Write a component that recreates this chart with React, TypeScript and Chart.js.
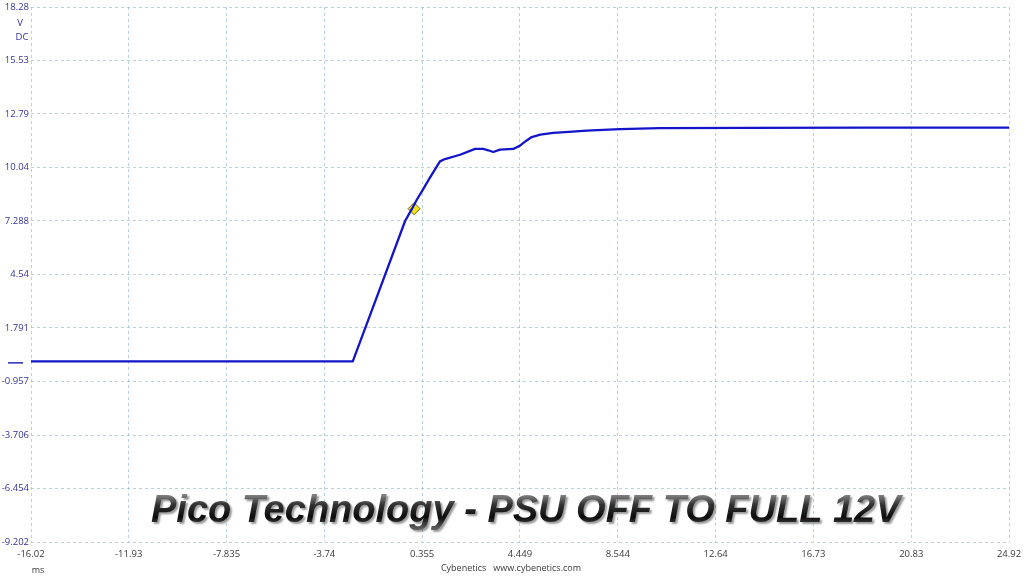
import React, { useEffect, useRef } from "react";
import { Chart, registerables } from "chart.js";

Chart.register(...registerables);

// ---- data ----
const timeMs = [
  -16.02, -8.0, -2.55, -1.6, -0.36, -0.07, 0.13, 0.38, 0.63, 0.86, 1.1, 1.31,
  1.94, 2.57, 2.91, 3.12, 3.33, 3.61, 4.17, 4.45, 4.7, 4.94, 5.3, 5.84, 6.5,
  7.24, 8.63, 10.3, 14.0, 19.0, 24.92,
];
const voltage = [
  0.075, 0.075, 0.075, 3.2, 7.288, 7.92, 8.38, 8.89, 9.41, 9.87, 10.35, 10.47,
  10.69, 10.99, 10.99, 10.92, 10.83, 10.95, 10.99, 11.16, 11.4, 11.6, 11.72,
  11.81, 11.87, 11.93, 12.01, 12.06, 12.07, 12.08, 12.08,
];
const triggerTime = [0.015];
const triggerVoltage = [7.92];

const xTickLabels = [
  "-16.02", "-11.93", "-7.835", "-3.74", "0.355", "4.449", "8.544", "12.64",
  "16.73", "20.83", "24.92",
];
const yTickLabels = [
  "-9.202", "-6.454", "-3.706", "-0.957", "1.791", "4.54", "7.288", "10.04",
  "12.79", "15.53", "18.28",
];

const titleText = "Pico Technology - PSU OFF TO FULL 12V";
const unitX = "ms";
const unitY = ["V", "DC"];
const footerText = "Cybenetics   www.cybenetics.com";

const TICK_FONT = { family: "'Open Sans', 'Noto Sans', sans-serif", size: 9.5 };
const GRID_COLOR = "rgba(150,185,205,0.65)";
const Y_LABEL_COLOR = "#34349a";
const X_LABEL_COLOR = "#3a3a3a";

const overlayPlugin = {
  id: "overlay",
  afterDraw(chart: any) {
    const ctx = chart.ctx as CanvasRenderingContext2D;
    const yScale = chart.scales.y;
    ctx.save();
    // unit labels on y axis
    ctx.fillStyle = Y_LABEL_COLOR;
    ctx.font = "9.5px 'Open Sans', 'Noto Sans', sans-serif";
    ctx.textAlign = "center";
    ctx.textBaseline = "middle";
    ctx.fillText(unitY[0], 20, 23);
    ctx.fillText(unitY[1], 22, 37);
    // zero marker
    const y0 = yScale.getPixelForValue(0);
    ctx.strokeStyle = "#2a2ab8";
    ctx.lineWidth = 1.5;
    ctx.beginPath();
    ctx.moveTo(8, y0);
    ctx.lineTo(23, y0);
    ctx.stroke();
    // x unit
    ctx.fillStyle = X_LABEL_COLOR;
    ctx.font = "9px 'Open Sans', 'Noto Sans', sans-serif";
    ctx.fillText(unitX, 38, 570);
    // footer
    ctx.fillText(footerText, 511, 568);
    // title
    ctx.font = "italic bold 38px 'Liberation Sans', Arial, sans-serif";
    ctx.textAlign = "left";
    ctx.textBaseline = "alphabetic";
    const tx = 151;
    const ty = 522;
    const grad = ctx.createLinearGradient(0, ty - 30, 0, ty + 6);
    grad.addColorStop(0, "#9a9a9a");
    grad.addColorStop(0.35, "#333333");
    grad.addColorStop(0.7, "#0c0c0c");
    grad.addColorStop(1, "#5a5a5a");
    ctx.shadowColor = "rgba(0,0,0,0.4)";
    ctx.shadowOffsetX = 2;
    ctx.shadowOffsetY = 2;
    ctx.shadowBlur = 2;
    ctx.fillStyle = grad;
    ctx.fillText(titleText, tx, ty);
    ctx.restore();
  },
};

export default function App() {
  const canvasRef = useRef<HTMLCanvasElement | null>(null);

  useEffect(() => {
    const canvas = canvasRef.current;
    if (!canvas) return;
    const xVals = xTickLabels.map((s) => parseFloat(s));
    const yVals = yTickLabels.map((s) => parseFloat(s));
    const chart = new Chart(canvas, {
      type: "line",
      data: {
        datasets: [
          {
            data: timeMs.map((t, i) => ({ x: t, y: voltage[i] })),
            borderColor: "#1414c8",
            borderWidth: 2.3,
            pointRadius: 0,
            tension: 0,
            borderJoinStyle: "round",
            fill: false,
          },
          {
            data: triggerTime.map((t, i) => ({ x: t, y: triggerVoltage[i] })),
            showLine: false,
            pointStyle: "rectRot",
            pointRadius: 6,
            backgroundColor: "#f2e41c",
            borderColor: "#6e6a10",
            borderWidth: 1,
          },
        ],
      },
      options: {
        animation: false,
        responsive: false,
        maintainAspectRatio: false,
        layout: { padding: { left: 0, right: 15, top: 7, bottom: 0 } },
        plugins: { legend: { display: false }, tooltip: { enabled: false } },
        scales: {
          x: {
            type: "linear",
            min: xVals[0],
            max: xVals[xVals.length - 1],
            afterBuildTicks: (scale: any) => {
              scale.ticks = xVals.map((v) => ({ value: v }));
            },
            afterFit: (scale: any) => {
              scale.height = 34;
              scale.paddingLeft = 0;
              scale.paddingRight = 0;
            },
            ticks: {
              autoSkip: false,
              maxRotation: 0,
              padding: 7,
              color: X_LABEL_COLOR,
              font: TICK_FONT,
              callback: (_v: any, i: number) => xTickLabels[i],
            },
            grid: { color: GRID_COLOR, lineWidth: 1, drawTicks: false },
            border: { display: false, dash: [3, 3] },
          },
          y: {
            type: "linear",
            min: yVals[0],
            max: yVals[yVals.length - 1],
            afterBuildTicks: (scale: any) => {
              scale.ticks = yVals.map((v) => ({ value: v }));
            },
            afterFit: (scale: any) => {
              scale.width = 31;
              scale.paddingTop = 0;
              scale.paddingBottom = 0;
            },
            ticks: {
              autoSkip: false,
              padding: 2,
              color: Y_LABEL_COLOR,
              font: TICK_FONT,
              callback: (_v: any, i: number) => yTickLabels[i],
            },
            grid: { color: GRID_COLOR, lineWidth: 1, drawTicks: false },
            border: { display: false, dash: [3, 3] },
          },
        },
      },
      plugins: [overlayPlugin],
    } as any);
    return () => chart.destroy();
  }, []);

  return (
    <div
      style={{
        position: "absolute",
        left: 0,
        top: 0,
        width: 1024,
        height: 576,
        background: "#ffffff",
      }}
    >
      <canvas
        ref={canvasRef}
        width={1024}
        height={576}
        style={{ display: "block", width: 1024, height: 576 }}
      />
    </div>
  );
}
